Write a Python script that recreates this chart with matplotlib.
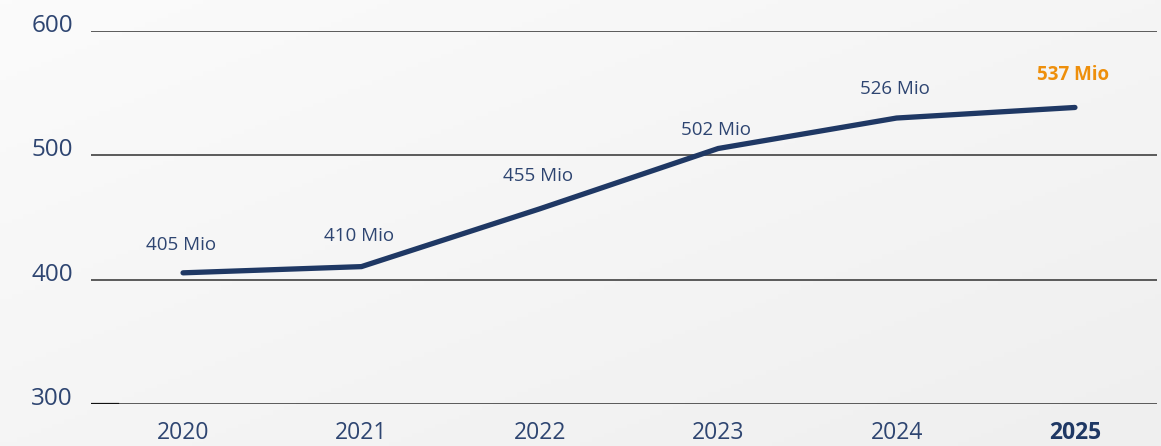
import numpy as np
import matplotlib
matplotlib.use("Agg")
import matplotlib.pyplot as plt
from matplotlib.transforms import ScaledTranslation

plt.rcParams['font.family'] = ['Open Sans', 'DejaVu Sans']

years = ["2020", "2021", "2022", "2023", "2024", "2025"]
values = [405.5, 410.5, 457, 505.5, 530, 538.5]  # line heights
labels = ["405 Mio", "410 Mio", "455 Mio", "502 Mio", "526 Mio", "537 Mio"]
y_ticks = [300, 400, 500, 600]
label_dy = [20, 22, 23.5, 13.5, 21, 23.5]  # label offset above each point, in points

navy = "#1f3864"
text_col = "#2e4571"
orange = "#ee8f0b"

fig = plt.figure(figsize=(11.61, 4.46), dpi=100)

# soft gradient background
bg = fig.add_axes([0, 0, 1, 1], zorder=-10)
gx, gy = np.meshgrid(np.linspace(0, 1, 200), np.linspace(0, 1, 100))
grad = 0.5 * gx + 0.5 * gy
bg.imshow(grad, cmap=matplotlib.colors.LinearSegmentedColormap.from_list("g", ["#fbfbfb", "#efefef"]),
          aspect="auto", extent=[0, 1, 1, 0])
bg.axis("off")

ax = fig.add_axes([91 / 1161, 42 / 446, 1066 / 1161, 373 / 446])
ax.patch.set_alpha(0)
x = np.arange(len(years))
ax.set_xlim(-0.516, 5.46)
ax.set_ylim(300, 600)

for t in y_ticks:
    ax.axhline(t, color="#404040", lw=1.2, zorder=1)
ax.axhline(300, xmin=0, xmax=27 / 1066, color="#111111", lw=1.6, zorder=2)

ax.plot(x, values, color=navy, lw=3.8, solid_capstyle="round", solid_joinstyle="round", zorder=3)

for i, (v, lab) in enumerate(zip(values, labels)):
    last = i == len(values) - 1
    ax.annotate(lab, (x[i], v), xytext=(-1.5, label_dy[i]), textcoords="offset points",
                ha="center", va="center", fontsize=13.5,
                color=orange if last else text_col, fontweight="bold" if last else "normal")

for s in ax.spines.values():
    s.set_visible(False)

ax.set_yticks(y_ticks)
ax.set_yticklabels([str(t) for t in y_ticks], fontsize=17.5, color=text_col)
ax.tick_params(axis="y", length=0, pad=13)
for lab in ax.get_yticklabels():
    lab.set_transform(lab.get_transform() + ScaledTranslation(0, 8 / 100, fig.dpi_scale_trans))

ax.set_xticks(x)
ax.set_xticklabels(years, fontsize=16.5, color=text_col)
ax.tick_params(axis="x", length=0, pad=12)
ax.get_xticklabels()[-1].set_fontweight("bold")
ax.get_xticklabels()[-1].set_color(navy)

fig.savefig("out.png", dpi=100)
